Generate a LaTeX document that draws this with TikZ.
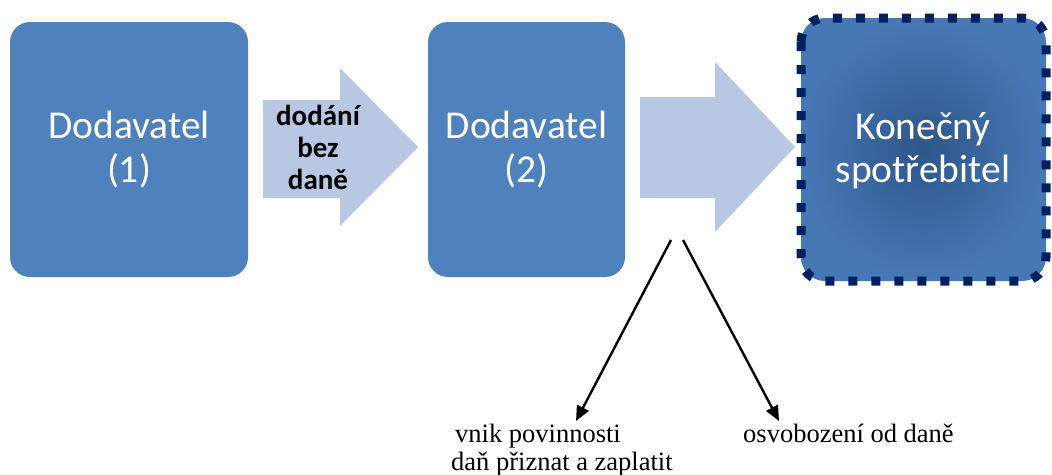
\documentclass[tikz,border=0pt]{standalone}
\usepackage{fontspec}
\setmainfont{Liberation Serif}
\newfontfamily\calib{Carlito}
\usetikzlibrary{arrows.meta}
\definecolor{boxblue}{HTML}{4F81BD}
\definecolor{arrowblue}{HTML}{B8C7E2}
\definecolor{navy}{HTML}{002060}
\definecolor{innerblue}{HTML}{2E5689}
\definecolor{outerblue}{HTML}{4778B6}
\tikzset{
  bluebox/.style={rounded corners=20pt, fill=boxblue, text=white, align=center,
    font=\calib\fontsize{39.5}{44}\selectfont, inner sep=0pt},
  flowarrow/.style={fill=arrowblue, draw=none},
  pointer/.style={line width=2.4pt, -{Triangle[length=15pt,width=13pt]}},
  caption/.style={font=\fontsize{26.5}{29}\selectfont, inner sep=0pt}
}
\begin{document}
\begin{tikzpicture}[x=1pt,y=-1pt]
\useasboundingbox (0,0) rectangle (1052,474);
% boxes
\node[bluebox, minimum width=238pt, minimum height=255pt] (d1) at (129,149.5) {Dodavatel\\(1)};
\node[bluebox, minimum width=197pt, minimum height=255pt] (d2) at (526.5,149.5) {Dodavatel\\(2)};
% block arrows
\fill[flowarrow] (263,100) -- (340,100) -- (340,68) -- (418,147) -- (340,226) -- (340,198) -- (263,198) -- cycle;
\node[font=\calib\bfseries\fontsize{29}{32}\selectfont, align=center] (a1) at (318,147) {dodání\\bez\\daně};
\fill[flowarrow] (640,97) -- (715,97) -- (715,62) -- (795,147) -- (715,232) -- (715,198) -- (640,198) -- cycle;
% final box
\shade[rounded corners=24pt, inner color=innerblue, outer color=outerblue]
  (801,18) rectangle (1046,281);
\draw[navy, line width=9pt, rounded corners=24pt, dash pattern=on 9pt off 14pt]
  (801,18) rectangle (1046,281);
\node[text=white, align=center, font=\calib\fontsize{39.5}{43}\selectfont] (k) at (923,151) {Konečný\\spotřebitel};
% pointers
\coordinate (s1) at (671,240);
\coordinate (s2) at (683,240);
\coordinate (e1) at (576,421);
\coordinate (e2) at (779,421);
\draw[pointer] (s1) -- (e1);
\draw[pointer] (s2) -- (e2);
\node[caption, anchor=base west] (t1) at (455,442) {vnik povinnosti};
\node[caption, anchor=base west] (t1b) at (451,470) {daň přiznat a zaplatit};
\node[caption, anchor=base west] (t2) at (743,442) {osvobození od daně};
\end{tikzpicture}
\end{document}
